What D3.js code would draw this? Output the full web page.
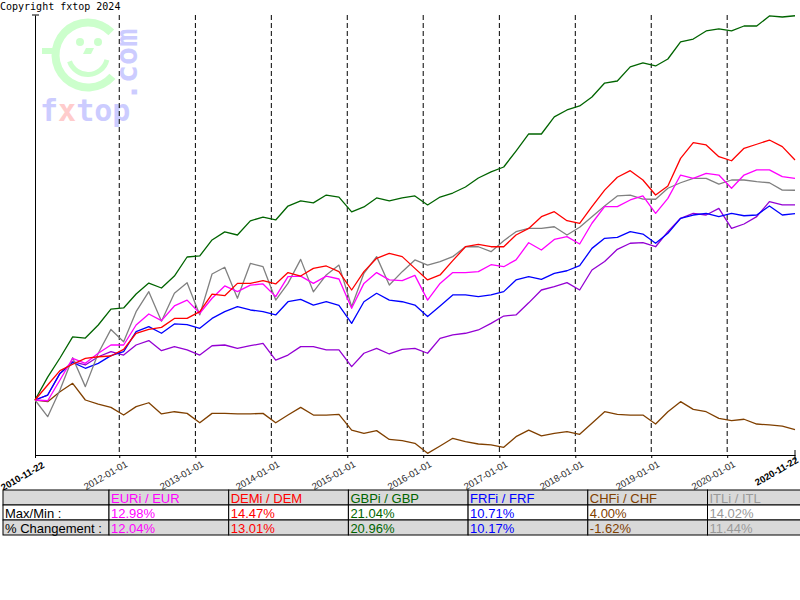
<!DOCTYPE html>
<html>
<head>
<meta charset="utf-8">
<script src="https://cdn.jsdelivr.net/npm/d3@7/dist/d3.min.js"></script>
<style>
    body { margin: 0; background: #fff; }
    svg { display: block; }
    .yearLine { stroke: #000; stroke-width: 1; stroke-dasharray: 5,3; }
    .line { fill: none; stroke-width: 1.3; stroke-linejoin: round; }
    .dateLabel { font-family: "Liberation Sans", Arial, sans-serif; font-size: 9.5px; fill: #2a2a2a; }
    .endLabel { font-weight: bold; fill: #000; }
    .cellText { font-family: "Liberation Sans", Arial, sans-serif; font-size: 13px; }
</style>
</head>
<body>
<div id="chart"></div>
<script>
// sample dates (every two months)
var dates = [
    "2010-11-22",
    "2011-01-22", "2011-03-22", "2011-05-22", "2011-07-22", "2011-09-22", "2011-11-22",
    "2012-01-22", "2012-03-22", "2012-05-22", "2012-07-22", "2012-09-22", "2012-11-22",
    "2013-01-22", "2013-03-22", "2013-05-22", "2013-07-22", "2013-09-22", "2013-11-22",
    "2014-01-22", "2014-03-22", "2014-05-22", "2014-07-22", "2014-09-22", "2014-11-22",
    "2015-01-22", "2015-03-22", "2015-05-22", "2015-07-22", "2015-09-22", "2015-11-22",
    "2016-01-22", "2016-03-22", "2016-05-22", "2016-07-22", "2016-09-22", "2016-11-22",
    "2017-01-22", "2017-03-22", "2017-05-22", "2017-07-22", "2017-09-22", "2017-11-22",
    "2018-01-22", "2018-03-22", "2018-05-22", "2018-07-22", "2018-09-22", "2018-11-22",
    "2019-01-22", "2019-03-22", "2019-05-22", "2019-07-22", "2019-09-22", "2019-11-22",
    "2020-01-22", "2020-03-22", "2020-05-22", "2020-07-22", "2020-09-22", "2020-11-22"
];

// % change since 2010-11-22
var eur = [0, -0.04, 1.09, 2.27, 2.0, 2.55, 3.0, 3.0, 4.09, 4.69, 4.33, 5.13, 5.45, 4.73, 5.55, 6.22, 5.91, 6.27, 6.33,
    5.64, 6.73, 6.76, 6.36, 6.76, 6.6, 5.0, 6.36, 6.95, 6.55, 6.51, 6.8, 5.45, 6.36, 6.95, 6.95, 7.0, 7.38, 7.27, 7.64, 8.58,
    8.18, 8.76, 8.91, 8.51, 9.64, 10.55, 10.55, 10.91, 11.13, 10.18, 11.0, 12.27, 12.09, 12.36, 12.27, 11.55, 12.27, 12.55, 12.55, 12.18, 12.09];
var dem = [0, 0.82, 1.6, 1.95, 2.27, 2.36, 2.4, 2.76, 3.64, 3.85, 3.96, 4.45, 4.45, 4.82, 5.78, 5.69, 6.36, 6.36, 6.51,
    6.33, 6.95, 6.76, 7.18, 7.31, 7.0, 6.0, 7.0, 7.73, 8.0, 7.82, 7.18, 6.55, 6.82, 7.6, 8.36, 8.49, 8.36, 8.36, 9.0, 9.36,
    10.0, 10.27, 9.78, 9.64, 10.55, 11.45, 12.15, 12.51, 12.0, 11.18, 11.67, 13.18, 14.04, 13.91, 13.27, 13.05, 13.73, 13.95, 14.18, 13.82, 13.09];
var gbp = [0, 1.25, 2.29, 3.44, 3.38, 4.09, 4.96, 5.02, 5.78, 6.38, 6.11, 6.76, 7.8, 7.86, 8.73, 9.17, 9.0, 9.77, 9.98,
    9.82, 10.58, 10.86, 10.75, 11.18, 11.07, 10.26, 10.53, 11.02, 10.86, 11.02, 11.13, 10.64, 11.07, 11.29, 11.62, 12.11, 12.44, 12.71, 13.58, 14.51,
    14.51, 15.44, 15.82, 16.04, 16.53, 17.29, 17.4, 18.17, 18.39, 18.22, 18.6, 19.53, 19.69, 20.13, 20.24, 20.13, 20.4, 20.4, 20.95, 20.89, 20.96];
var frf = [0, 0.27, 1.45, 2.05, 1.73, 2.0, 2.42, 2.64, 3.73, 4.0, 3.64, 4.15, 4.11, 3.91, 4.45, 4.82, 5.09, 4.91, 4.82,
    4.64, 5.36, 5.49, 5.18, 5.36, 5.16, 4.18, 5.36, 5.82, 5.45, 5.36, 5.18, 4.55, 5.13, 5.73, 5.73, 5.64, 5.73, 5.91, 6.55, 6.73,
    6.58, 6.91, 7.05, 7.33, 8.27, 8.82, 8.87, 9.18, 9.05, 8.55, 9.09, 9.91, 10.09, 10.18, 10.0, 10.18, 10.05, 10.09, 10.58, 10.09, 10.17];
var chf = [0, -0.09, 0.45, 0.91, 0.0, -0.22, -0.4, -0.82, -0.36, -0.15, -0.76, -0.64, -0.73, -1.24, -0.73, -0.73, -0.76, -0.76, -0.73,
    -1.24, -0.82, -0.4, -0.82, -0.82, -0.78, -1.64, -1.82, -1.67, -2.15, -2.22, -2.36, -2.91, -2.51, -2.09, -2.27, -2.4, -2.45, -2.58, -2.0, -1.64,
    -1.96, -1.82, -1.73, -1.87, -1.27, -0.64, -0.78, -0.82, -0.82, -1.31, -0.64, -0.09, -0.51, -0.64, -1.0, -1.13, -1.05, -1.31, -1.36, -1.42, -1.62];
var itl = [0, -0.91, 0.55, 2.31, 0.73, 2.55, 3.85, 3.18, 4.82, 5.91, 4.3, 5.82, 6.4, 4.64, 6.87, 7.24, 5.55, 7.45, 7.27,
    5.45, 6.36, 7.67, 5.9, 6.82, 7.36, 5.09, 6.91, 7.82, 6.27, 7.0, 7.64, 7.36, 7.55, 7.82, 8.36, 8.36, 8.09, 8.69, 9.18, 9.36,
    9.36, 9.45, 9.0, 9.42, 10.0, 10.58, 11.13, 11.18, 10.96, 10.95, 11.55, 11.85, 12.09, 12.09, 11.78, 12.0, 12.0, 11.91, 11.85, 11.45, 11.44];
var purple = [0, 0.27, 1.45, 2.09, 1.91, 2.36, 2.64, 2.45, 3.0, 3.24, 2.69, 2.91, 2.73, 2.45, 2.96, 3.0, 2.82, 2.96, 3.09,
    2.18, 2.45, 2.91, 2.91, 2.73, 2.73, 1.82, 2.55, 2.82, 2.51, 2.76, 2.82, 2.55, 3.36, 3.55, 3.64, 3.82, 4.18, 4.58, 4.64, 5.3,
    6.0, 6.18, 6.4, 6.0, 7.09, 7.55, 8.22, 8.55, 8.58, 8.36, 9.18, 9.91, 10.18, 10.09, 10.45, 9.36, 9.6, 10.0, 10.82, 10.64, 10.64];

// table content
var tableHeads = ["EURi / EUR", "DEMi / DEM", "GBPi / GBP", "FRFi / FRF", "CHFi / CHF", "ITLi / ITL"];
var maxMin = ["12.98%", "14.47%", "21.04%", "10.71%", "4.00%", "14.02%"];
var changes = ["12.04%", "13.01%", "20.96%", "10.17%", "-1.62%", "11.44%"];
var rowLabels = ["", "Max/Min :", "% Changement :"];

// axis labels
var yearTicks = ["2012-01-01", "2013-01-01", "2014-01-01", "2015-01-01", "2016-01-01",
    "2017-01-01", "2018-01-01", "2019-01-01", "2020-01-01"];
var startLabel = "2010-11-22";
var endLabel = "2020-11-22";

function init() {
    const w = 800;
    const h = 600;
    var parse = d3.timeParse("%Y-%m-%d");

    var colors = ["#ff00ff", "#ff0000", "#006400", "#0000ff", "#804000", "#808080"];
    var textColors = ["#ff00ff", "#ff0000", "#006400", "#0000ff", "#804000", "#999999"];

    var series = [
        { values: chf, color: colors[4] },
        { values: purple, color: "#9400d3" },
        { values: frf, color: colors[3] },
        { values: gbp, color: colors[2] },
        { values: itl, color: colors[5] },
        { values: eur, color: colors[0] },
        { values: dem, color: colors[1] }
    ];

    var svg = d3.select("#chart").append("svg").attr("width", w).attr("height", h);

    // Scales
    var xScale = d3.scaleTime()
        .domain([parse(startLabel), parse(endLabel)])
        .range([35, 795]);

    var yScale = d3.scaleLinear()
        .domain([-3, 21])
        .range([455, 15]);

    // fxtop watermark
    var logo = svg.append("g");
    var cx = 88, cy = 55;
    logo.append("path")
        .attr("d", d3.arc().innerRadius(28.5).outerRadius(36.5)
            .startAngle(Math.PI / 2 + 0.72).endAngle(Math.PI * 2 + Math.PI / 2 - 0.77)())
        .attr("transform", "translate(" + cx + "," + cy + ")")
        .attr("fill", "#ccffcc");
    logo.append("rect").attr("x", 42).attr("y", 48).attr("width", 14).attr("height", 6).attr("fill", "#ccffcc");
    logo.append("circle").attr("cx", 80).attr("cy", 42).attr("r", 4).attr("fill", "#ccffcc");
    logo.append("circle").attr("cx", 98).attr("cy", 42).attr("r", 4).attr("fill", "#ccffcc");
    logo.append("path").attr("d", "M86,48 L94,48 L91,54 L83,54 Z").attr("fill", "#ccffcc");
    logo.append("path")
        .attr("d", d3.arc().innerRadius(17).outerRadius(22)
            .startAngle(Math.PI / 2 + 0.25).endAngle(Math.PI * 1.5 - 0.33)())
        .attr("transform", "translate(" + cx + "," + cy + ")")
        .attr("fill", "#ccffcc");

    var brand = logo.append("text")
        .attr("x", 40).attr("y", 121)
        .style("font-family", "'DejaVu Sans Mono', monospace")
        .style("font-weight", "bold")
        .style("font-size", "30px")
        .attr("fill", "#ccccff");
    brand.append("tspan").text("f");
    brand.append("tspan").attr("fill", "#ffcccc").text("x");
    brand.append("tspan").text("top");

    logo.append("text")
        .attr("transform", "translate(137,101) rotate(-90)")
        .style("font-family", "'DejaVu Sans Mono', monospace")
        .style("font-weight", "bold")
        .style("font-size", "30px")
        .attr("fill", "#ccccff")
        .text(".com");

    svg.append("text")
        .attr("x", 0).attr("y", 10)
        .style("font-family", "'DejaVu Sans Mono', monospace")
        .style("font-size", "10px")
        .attr("fill", "#000")
        .text("Copyright fxtop 2024");

    // Dashed year lines
    svg.selectAll(".yearLine")
        .data(yearTicks)
        .enter()
        .append("line")
        .attr("class", "yearLine")
        .attr("x1", (d) => { return xScale(parse(d)) })
        .attr("x2", (d) => { return xScale(parse(d)) })
        .attr("y1", yScale.range()[1])
        .attr("y2", yScale.range()[0]);

    // Axes
    var xAxis = d3.axisBottom(xScale)
        .tickValues(yearTicks.map(parse).concat([parse(startLabel)]))
        .tickSize(3)
        .tickSizeOuter(0)
        .tickFormat("");

    svg.append("g")
        .attr("transform", "translate(0," + yScale.range()[0] + ")")
        .call(xAxis);

    svg.append("line")
        .attr("x1", xScale(parse(endLabel))).attr("x2", xScale(parse(endLabel)))
        .attr("y1", 450).attr("y2", 460)
        .attr("stroke", "#000");

    var yAxis = d3.axisLeft(yScale)
        .tickValues([])
        .tickSizeOuter(0);

    svg.append("g")
        .attr("transform", "translate(35,0)")
        .call(yAxis);

    svg.append("line")
        .attr("x1", 32).attr("x2", 39)
        .attr("y1", yScale.range()[1]).attr("y2", yScale.range()[1])
        .attr("stroke", "#000");

    // Date labels
    svg.selectAll(".dateLabel")
        .data(yearTicks)
        .enter()
        .append("text")
        .attr("class", "dateLabel")
        .attr("text-anchor", "end")
        .attr("transform", (d) => { return "translate(" + (xScale(parse(d)) + 9) + ",466) rotate(-30)" })
        .text((d) => { return d });

    svg.append("text")
        .attr("class", "dateLabel endLabel")
        .attr("text-anchor", "end")
        .attr("transform", "translate(" + (xScale(parse(startLabel)) + 10) + ",467) rotate(-30)")
        .text(startLabel);

    svg.append("text")
        .attr("class", "dateLabel endLabel")
        .attr("text-anchor", "end")
        .attr("transform", "translate(" + (xScale(parse(endLabel)) + 4) + ",462) rotate(-30)")
        .text(endLabel);

    // Lines
    var line = d3.line()
        .x((d, i) => { return xScale(parse(dates[i])) })
        .y((d) => { return yScale(d) });

    svg.selectAll(".line")
        .data(series)
        .enter()
        .append("path")
        .attr("class", "line")
        .attr("stroke", (d) => { return d.color })
        .attr("d", (d) => { return line(d.values) });

    // Summary table
    var colX = [3, 109];
    for (var c = 1; c <= tableHeads.length; c++) {
        colX.push(109 + c * 119.7);
    }
    var rowY = [490, 505, 520, 535];
    var rows = [tableHeads, maxMin, changes];
    var table = svg.append("g");

    rows.forEach((row, r) => {
        var fill = (r === 1) ? "#ffffff" : "#d9d9d9";
        table.append("rect")
            .attr("x", colX[0]).attr("y", rowY[r])
            .attr("width", colX[1] - colX[0]).attr("height", rowY[r + 1] - rowY[r])
            .attr("fill", fill).attr("stroke", "#000");
        table.append("text")
            .attr("class", "cellText")
            .attr("x", colX[0] + 2).attr("y", rowY[r + 1] - 2)
            .attr("fill", "#000")
            .text(rowLabels[r]);

        row.forEach((val, c) => {
            var right = (c === row.length - 1) ? 830 : colX[c + 2];
            table.append("rect")
                .attr("x", colX[c + 1]).attr("y", rowY[r])
                .attr("width", right - colX[c + 1]).attr("height", rowY[r + 1] - rowY[r])
                .attr("fill", fill).attr("stroke", "#000");
            table.append("text")
                .attr("class", "cellText")
                .attr("x", colX[c + 1] + 2).attr("y", rowY[r + 1] - 2)
                .attr("fill", textColors[c])
                .text(val);
        });
    });
}

window.onload = init;
</script>
</body>
</html>
